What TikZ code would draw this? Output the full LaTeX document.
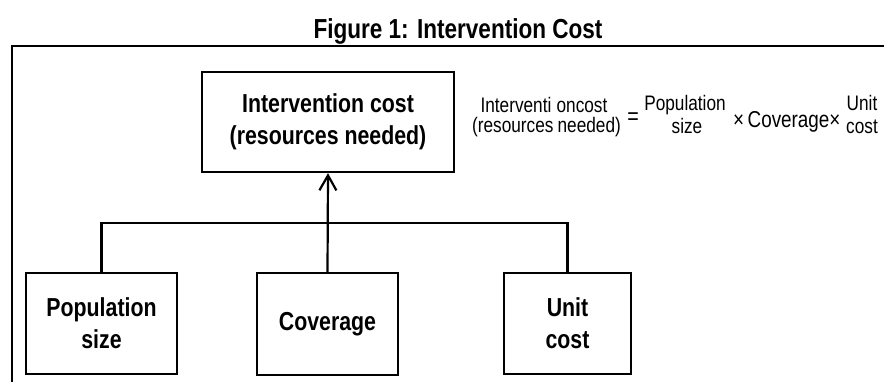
\documentclass[tikz,border=0pt]{standalone}
\usepackage{fontspec}
\setmainfont{Liberation Sans}[FakeStretch=0.82]
\newfontfamily\eqfont{Liberation Sans}[FakeStretch=0.82]
\usetikzlibrary{arrows.meta}
\tikzset{
  box/.style={draw, line width=2.3pt, inner sep=0pt, align=center,
    font=\bfseries\fontsize{26pt}{32pt}\selectfont},
  link/.style={draw, line width=2.2pt},
  eqtxt/.style={inner sep=0pt, font=\eqfont\fontsize{21pt}{25pt}\selectfont},
}
\begin{document}
\begin{tikzpicture}[x=1pt,y=-1pt]
\useasboundingbox (0,0) rectangle (884,381);
% title
\node[inner sep=0pt, anchor=base, font=\bfseries\fontsize{27.5pt}{32pt}\selectfont] (title) at (458,38) {Figure 1: Intervention Cost};
% frame
\coordinate (fbl) at (12,390);
\coordinate (ftl) at (12,46);
\coordinate (ftr) at (892,46);
\draw[line width=2.4pt] (fbl) -- (ftl) -- (ftr);
% boxes
\node[box, minimum width=252pt, minimum height=100pt] (top) at (328,122) {Intervention cost\\(resources needed)};
\node[box, minimum width=151pt, minimum height=101pt] (pop) at (101.5,323.5) {Population\\size};
\node[box, minimum width=141pt, minimum height=102pt] (cov) at (327.5,324) {Coverage};
\node[box, minimum width=127pt, minimum height=101pt] (unit) at (567.5,323.5) {Unit\\cost};
% connectors
\coordinate (j) at (328,223);
\draw[link] (pop.north) |- (j) -| (unit.north);
\draw[link, -{Straight Barb[length=15pt,width=17pt,line width=2.2pt]}] (cov.north) -- (top.south);
% formula
\node[eqtxt, anchor=base] (l1) at (544,112) {Interventi\hspace{0.25em}oncost};
\node[eqtxt, anchor=base] (l2) at (546.5,132) {(resources\hspace{0.2em}needed)};
\node[eqtxt, font=\eqfont\fontsize{24pt}{28pt}\selectfont] (eq) at (633,119) {=};
\node[eqtxt, anchor=base] (p1) at (685,110) {Population};
\node[eqtxt, anchor=base] (p2) at (687,133) {size};
\node[eqtxt, anchor=base west, font=\eqfont\fontsize{23pt}{28pt}\selectfont] (cv) at (733,127) {×\hspace{0.15em}Coverage×};
\node[eqtxt, anchor=base] (u1) at (862,110) {Unit};
\node[eqtxt, anchor=base] (u2) at (862,133) {cost};
\end{tikzpicture}
\end{document}
